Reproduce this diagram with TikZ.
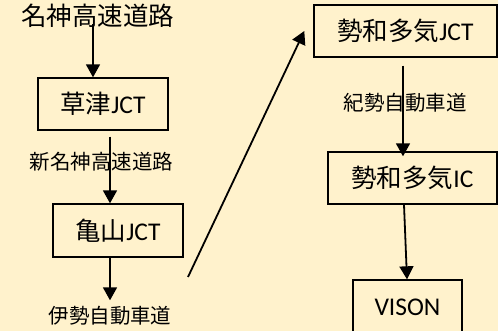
\documentclass[tikz,border=0pt]{standalone}
\usepackage{fontspec}
\setmainfont{Carlito}
\newfontfamily\jp{Noto Sans CJK JP}
\usetikzlibrary{arrows.meta}
\definecolor{bg}{HTML}{FFF2CC}
\begin{document}
\begin{tikzpicture}[x=1pt,y=-1pt,
  box/.style={draw=black,line width=1.4pt,fill=bg,inner sep=0pt,font=\fontsize{25.5}{27}\selectfont},
  lbl/.style={inner sep=0pt,font=\fontsize{20.5}{22}\selectfont\jp},
  arr/.style={line width=1.8pt,-{Triangle[width=14pt,length=13pt]}},
  ln/.style={line width=1.8pt}]
\fill[bg] (0,0) rectangle (498,331);
\useasboundingbox (0,0) rectangle (498,331);
\node[inner sep=0pt,font=\fontsize{25.5}{27}\selectfont\jp] (title) at (97.5,16) {名神高速道路};
\node[box,minimum width=130pt,minimum height=52pt] (kus) at (103,104) {{\jp 草津}JCT};
\node[box,minimum width=130pt,minimum height=53pt] (kam) at (118,230.5) {{\jp 亀山}JCT};
\node[box,minimum width=183pt,minimum height=52pt] (swj) at (405.5,31) {{\jp 勢和多気}JCT};
\node[box,minimum width=169pt,minimum height=52pt] (swi) at (412.5,178) {{\jp 勢和多気}IC};
\node[box,minimum width=109pt,minimum height=54pt] (vis) at (407.5,307) {VISON};
\node[lbl] (l1) at (101.5,162) {新名神高速道路};
\node[lbl] (l2) at (110,316) {伊勢自動車道};
\node[lbl] (l3) at (405,103) {紀勢自動車道};
\coordinate (d0) at (188,277);
\draw[arr] ([xshift=-4.5pt,yshift=4pt]title.south) -- ([xshift=-10pt]kus.north);
\draw[arr] ([xshift=7pt,yshift=-6pt]kus.south) -- ([xshift=-8pt]kam.north);
\draw[arr] ([xshift=-8pt]kam.south) -- ([yshift=6pt]l2.north);
\draw[arr] (d0) -- ([xshift=-9pt]swj.west);
\draw[arr] ([xshift=-2.5pt,yshift=-8pt]swj.south) -- ([xshift=-9.5pt,yshift=-5pt]swi.north);
\draw[arr] ([xshift=-8.5pt]swi.south) -- ([xshift=-0.5pt]vis.north);
\end{tikzpicture}
\end{document}
